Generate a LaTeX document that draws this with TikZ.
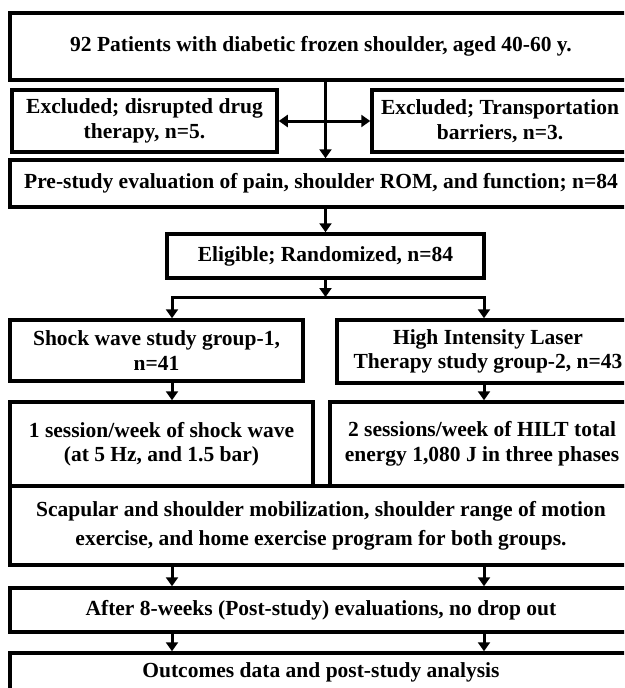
\documentclass[tikz,border=0pt]{standalone}
\usepackage{fontspec}
\setmainfont{Liberation Serif}
\usepackage{tikz}
\usetikzlibrary{arrows.meta}
\tikzstyle{box}=[draw=black, line width=3.5pt, align=center, inner sep=0pt,
                 font=\bfseries\fontsize{21.5}{24.5}\selectfont]
\tikzstyle{arr}=[draw=black, line width=3pt, -{Triangle[width=12pt,length=9pt]}]
\tikzstyle{dbl}=[draw=black, line width=3pt,
                 {Triangle[width=12pt,length=9pt]}-{Triangle[width=12pt,length=9pt]}]

\begin{document}
\begin{tikzpicture}[x=1pt, y=-1pt]
  \useasboundingbox (0,0) rectangle (624,688);
  \clip (0,0) rectangle (624,688);
  % enrolment and exclusion
  \node[box, minimum width=622pt, minimum height=67pt] (top) at (321,46.5)
    {92 Patients with diabetic frozen shoulder, aged 40-60 y.};
  \node[box, minimum width=265pt, minimum height=62pt] (exl) at (144.5,121)
    {Excluded; disrupted drug\\therapy, n=5.};
  \node[box, minimum width=256pt, minimum height=62pt] (exr) at (500,121)
    {Excluded; Transportation\\barriers, n=3.};
  \node[box, minimum width=622pt, minimum height=47pt] (pre) at (321,183.5)
    {Pre-study evaluation of pain, shoulder ROM, and function; n=84};
  \node[box, minimum width=317pt, minimum height=44pt] (eli) at (325.5,256)
    {Eligible; Randomized, n=84};
  % allocation
  \coordinate (sl) at (172,297);
  \coordinate (sr) at (484,297);
  \node[box, minimum width=293pt, minimum height=61pt] (g1) at (156.5,350.5)
    {Shock wave study group-1,\\n=41};
  \node[box, minimum width=302pt, minimum height=63pt] (g2) at (488,351.5)
    {High Intensity Laser\\Therapy study group-2, n=43};
  \node[box, minimum width=303pt, minimum height=84pt] (s1) at (161.5,444)
    {1 session/week of shock wave\\(at 5 Hz, and 1.5 bar)};
  \node[box, minimum width=304pt, minimum height=84pt] (s2) at (482,444)
    {2 sessions/week of HILT total\\energy 1,080 J in three phases};
  \node[box, minimum width=622pt, minimum height=79pt,
        font=\bfseries\fontsize{21.5}{29}\selectfont] (scap) at (321,525.5)
    {Scapular and shoulder mobilization, shoulder range of motion\\
     exercise, and home exercise program for both groups.};
  % follow-up
  \node[box, minimum width=622pt, minimum height=44pt] (post) at (321,610)
    {After 8-weeks (Post-study) evaluations, no drop out};
  \node[box, minimum width=622pt, minimum height=39pt] (out) at (321,672.5)
    {Outcomes data and post-study analysis};

  \draw[arr] (top.south -| eli) -- (pre.north -| eli);
  \draw[dbl] (exl) -- (exr);
  \draw[arr] (pre.south -| eli) -- (eli);
  \draw[arr] (eli) -- (eli |- sl);
  \draw[arr] (sr) -- (sl) -- (sl |- g1.north);
  \draw[arr] (sl) -- (sr) -- (sr |- g2.north);
  \draw[arr] (g1.south -| sl) -- (s1.north -| sl);
  \draw[arr] (g2.south -| sr) -- (s2.north -| sr);
  \foreach \c in {sl,sr} {
    \draw[arr] (scap.south -| \c) -- (post.north -| \c);
    \draw[arr] (post.south -| \c) -- (out.north -| \c);
  }
\end{tikzpicture}
\end{document}
